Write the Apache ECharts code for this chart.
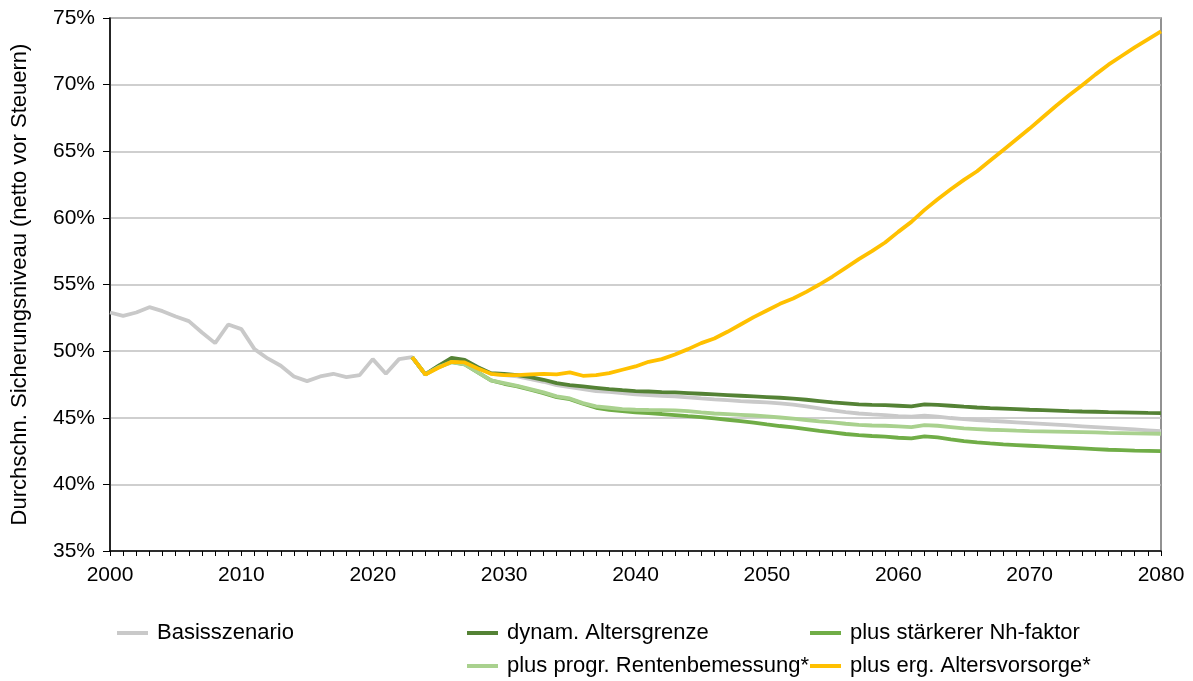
<!DOCTYPE html>
<html>
<head>
<meta charset="utf-8">
<script src="https://cdn.jsdelivr.net/npm/echarts@6/dist/echarts.min.js"></script>
<style>
html,body{margin:0;padding:0;background:#fff;}
#chart{width:1193px;height:681px;}
</style>
</head>
<body>
<div id="chart"></div>
<script>
const years = [];
for (let y = 2000; y <= 2080; y++) years.push(String(y));

const seriesNames = ['Basisszenario', 'dynam. Altersgrenze', 'plus stärkerer Nh-faktor', 'plus progr. Rentenbemessung*', 'plus erg. Altersvorsorge*'];

// 2000–2080
const basis = [52.9, 52.65, 52.9, 53.3, 53.0, 52.6, 52.25, 51.4, 50.6, 52.0,
  51.65, 50.15, 49.45, 48.9, 48.1, 47.75, 48.1, 48.3, 48.05, 48.2,
  49.4, 48.3, 49.4, 49.55, 48.25, 48.9, 49.4, 49.3, 48.8, 48.3,
  48.2, 48.1, 47.9, 47.7, 47.45, 47.3, 47.15, 47.0, 46.95, 46.85,
  46.75, 46.7, 46.65, 46.6, 46.53, 46.45, 46.38, 46.32, 46.25, 46.2,
  46.15, 46.08, 45.98, 45.85, 45.7, 45.55, 45.42, 45.32, 45.25, 45.2,
  45.12, 45.08, 45.15, 45.08, 44.98, 44.9, 44.83, 44.77, 44.72, 44.66,
  44.6, 44.54, 44.48, 44.42, 44.36, 44.3, 44.24, 44.18, 44.12, 44.06,
  44.0];

// 2023–2080
const dynAlter = [49.55, 48.25, 48.9, 49.5, 49.35, 48.8, 48.35,
  48.3, 48.2, 48.05, 47.85, 47.6, 47.45, 47.35, 47.25, 47.15, 47.07,
  47.0, 46.97, 46.93, 46.9, 46.85, 46.8, 46.75, 46.7, 46.65, 46.6,
  46.55, 46.5, 46.43, 46.35, 46.25, 46.15, 46.08, 46.0, 45.97, 45.95,
  45.9, 45.85, 46.0, 45.97, 45.9, 45.83, 45.77, 45.72, 45.68, 45.64,
  45.6, 45.57, 45.54, 45.5, 45.47, 45.45, 45.42, 45.4, 45.38, 45.36,
  45.35];

const nhFaktor = [49.55, 48.25, 48.8, 49.2, 49.0, 48.4, 47.8,
  47.55, 47.35, 47.1, 46.85, 46.55, 46.4, 46.05, 45.75, 45.6, 45.5,
  45.4, 45.35, 45.28, 45.2, 45.12, 45.05, 44.95, 44.85, 44.75, 44.63,
  44.5, 44.38, 44.27, 44.15, 44.02, 43.9, 43.78, 43.7, 43.63, 43.58,
  43.5, 43.45, 43.6, 43.52, 43.38, 43.25, 43.15, 43.07, 43.0, 42.95,
  42.9, 42.85, 42.8, 42.75, 42.7, 42.65, 42.6, 42.57, 42.54, 42.52,
  42.5];

const rentenbem = [49.55, 48.25, 48.8, 49.15, 49.0, 48.4, 47.8,
  47.6, 47.4, 47.15, 46.9, 46.6, 46.45, 46.1, 45.85, 45.75, 45.65,
  45.6, 45.58, 45.57, 45.55, 45.5, 45.4, 45.32, 45.27, 45.22, 45.17,
  45.1, 45.02, 44.93, 44.83, 44.73, 44.65, 44.55, 44.47, 44.42, 44.4,
  44.35, 44.3, 44.45, 44.4, 44.3, 44.2, 44.15, 44.1, 44.07, 44.03,
  44.0, 43.98, 43.96, 43.94, 43.92, 43.9, 43.87, 43.85, 43.83, 43.81,
  43.8];

const altersvorsorge = [49.55, 48.25, 48.75, 49.2, 49.15, 48.7, 48.3,
  48.2, 48.2, 48.25, 48.3, 48.25, 48.4, 48.15, 48.2, 48.35, 48.6,
  48.85, 49.2, 49.4, 49.75, 50.15, 50.6, 50.95, 51.45, 52.0, 52.55,
  53.05, 53.55, 53.95, 54.45, 55.0, 55.6, 56.25, 56.9, 57.5, 58.15,
  58.95, 59.7, 60.6, 61.4, 62.15, 62.85, 63.5, 64.3, 65.1, 65.9,
  66.7, 67.55, 68.4, 69.2, 69.95, 70.75, 71.5, 72.15, 72.8, 73.4,
  74.0];

const yTicks = { min: 35, max: 75, interval: 5 };
const scenarioStart = 2023;

function pad(arr) {
  const lead = new Array(scenarioStart - 2000).fill(null);
  return lead.concat(arr);
}

const colors = ['#c9c9c9', '#548235', '#70ad47', '#a9d18e', '#ffc000'];
const dataList = [basis, pad(dynAlter), pad(nhFaktor), pad(rentenbem), pad(altersvorsorge)];

const FONT = 'Liberation Sans, Arial, sans-serif';
const FS = 21;
const FS_BIG = 22;
const chart = echarts.init(document.getElementById('chart'), null, { renderer: 'canvas' });

// legend slot positions [left, top] for each series
const legendPos = [[117, 622], [467, 622], [810, 622], [467, 655], [810, 655]];

chart.setOption({
  animation: false,
  backgroundColor: '#fff',
  grid: {
    left: 110, right: 32, top: 18, bottom: 130,
    outerBoundsMode: 'none',
    containLabel: false,
    show: true, borderColor: '#6f6f6f', borderWidth: 1.5, backgroundColor: 'transparent'
  },
  legend: seriesNames.map((name, i) => ({
    data: [name],
    left: legendPos[i][0],
    top: legendPos[i][1],
    icon: 'rect',
    itemWidth: 31,
    itemHeight: 4,
    padding: 0,
    textStyle: { fontFamily: FONT, fontSize: FS_BIG, color: '#000', padding: [0, 0, 0, 4], lineHeight: 22 }
  })),
  xAxis: {
    type: 'category',
    data: years,
    boundaryGap: false,
    axisLine: { lineStyle: { color: '#000', width: 1.5 } },
    axisTick: { show: true, interval: 0, length: 5, lineStyle: { color: '#000', width: 1 } },
    axisLabel: { interval: 9, color: '#000', fontFamily: FONT, fontSize: FS, margin: 14 },
    splitLine: { show: false }
  },
  yAxis: {
    type: 'value',
    min: yTicks.min, max: yTicks.max, interval: yTicks.interval,
    name: 'Durchschn. Sicherungsniveau (netto vor Steuern)',
    nameLocation: 'middle',
    nameGap: 79,
    nameTextStyle: { fontFamily: FONT, fontSize: FS_BIG, color: '#000' },
    axisLine: { show: true, lineStyle: { color: '#000', width: 1.5 } },
    axisTick: { show: true, length: 7, lineStyle: { color: '#000', width: 1 } },
    axisLabel: { formatter: '{value}%', color: '#000', fontFamily: FONT, fontSize: FS, margin: 15 },
    splitLine: { show: true, lineStyle: { color: '#bfbfbf', width: 1.5 } }
  },
  series: seriesNames.map((name, i) => ({
    name: name,
    type: 'line',
    data: dataList[i],
    showSymbol: false,
    symbol: 'none',
    smooth: false,
    connectNulls: false,
    color: colors[i],
    lineStyle: { color: colors[i], width: 3.8 },
    z: 2 + i
  }))
});
</script>
</body>
</html>
